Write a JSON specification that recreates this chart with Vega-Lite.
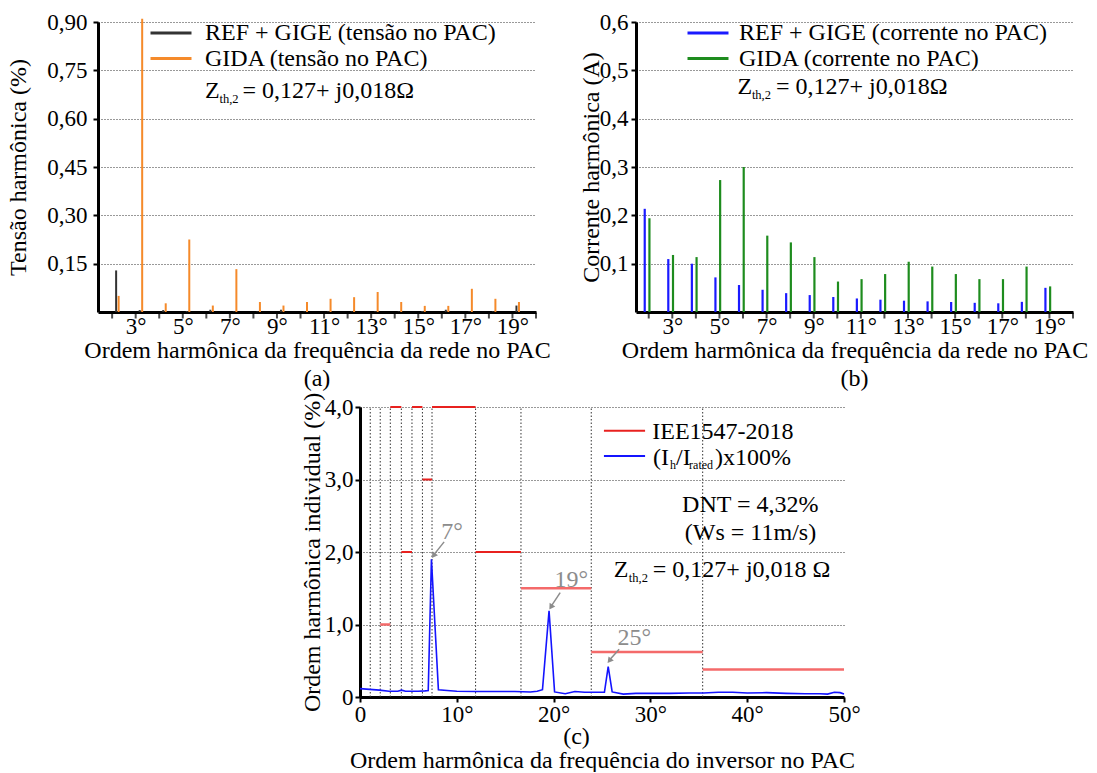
{
  "$schema": "https://vega.github.io/schema/vega-lite/v6.json",
  "background": "white",
  "autosize": {"type": "pad"},
  "padding": {"left": 6, "top": 11, "right": 5, "bottom": 0},
  "datasets": {
    "tensao": [
      {"h": 2, "serie": "REF + GIGE (tensão no PAC)", "v": 0.129},
      {"h": 3, "serie": "REF + GIGE (tensão no PAC)", "v": 0.006},
      {"h": 4, "serie": "REF + GIGE (tensão no PAC)", "v": 0.006},
      {"h": 5, "serie": "REF + GIGE (tensão no PAC)", "v": 0.003},
      {"h": 6, "serie": "REF + GIGE (tensão no PAC)", "v": 0.007},
      {"h": 7, "serie": "REF + GIGE (tensão no PAC)", "v": 0.002},
      {"h": 8, "serie": "REF + GIGE (tensão no PAC)", "v": 0.002},
      {"h": 9, "serie": "REF + GIGE (tensão no PAC)", "v": 0.007},
      {"h": 10, "serie": "REF + GIGE (tensão no PAC)", "v": 0.002},
      {"h": 11, "serie": "REF + GIGE (tensão no PAC)", "v": 0.002},
      {"h": 12, "serie": "REF + GIGE (tensão no PAC)", "v": 0.002},
      {"h": 13, "serie": "REF + GIGE (tensão no PAC)", "v": 0.002},
      {"h": 14, "serie": "REF + GIGE (tensão no PAC)", "v": 0.002},
      {"h": 15, "serie": "REF + GIGE (tensão no PAC)", "v": 0.003},
      {"h": 16, "serie": "REF + GIGE (tensão no PAC)", "v": 0.007},
      {"h": 17, "serie": "REF + GIGE (tensão no PAC)", "v": 0.002},
      {"h": 18, "serie": "REF + GIGE (tensão no PAC)", "v": 0.002},
      {"h": 19, "serie": "REF + GIGE (tensão no PAC)", "v": 0.02},
      {"h": 2, "serie": "GIDA (tensão no PAC)", "v": 0.05},
      {"h": 3, "serie": "GIDA (tensão no PAC)", "v": 0.91},
      {"h": 4, "serie": "GIDA (tensão no PAC)", "v": 0.027},
      {"h": 5, "serie": "GIDA (tensão no PAC)", "v": 0.225},
      {"h": 6, "serie": "GIDA (tensão no PAC)", "v": 0.02},
      {"h": 7, "serie": "GIDA (tensão no PAC)", "v": 0.133},
      {"h": 8, "serie": "GIDA (tensão no PAC)", "v": 0.031},
      {"h": 9, "serie": "GIDA (tensão no PAC)", "v": 0.02},
      {"h": 10, "serie": "GIDA (tensão no PAC)", "v": 0.031},
      {"h": 11, "serie": "GIDA (tensão no PAC)", "v": 0.041},
      {"h": 12, "serie": "GIDA (tensão no PAC)", "v": 0.046},
      {"h": 13, "serie": "GIDA (tensão no PAC)", "v": 0.062},
      {"h": 14, "serie": "GIDA (tensão no PAC)", "v": 0.031},
      {"h": 15, "serie": "GIDA (tensão no PAC)", "v": 0.019},
      {"h": 16, "serie": "GIDA (tensão no PAC)", "v": 0.019},
      {"h": 17, "serie": "GIDA (tensão no PAC)", "v": 0.072},
      {"h": 18, "serie": "GIDA (tensão no PAC)", "v": 0.041},
      {"h": 19, "serie": "GIDA (tensão no PAC)", "v": 0.031}
    ],
    "corrente": [
      {"h": 2, "serie": "REF + GIGE (corrente no PAC)", "v": 0.2135},
      {"h": 3, "serie": "REF + GIGE (corrente no PAC)", "v": 0.1095},
      {"h": 4, "serie": "REF + GIGE (corrente no PAC)", "v": 0.0999},
      {"h": 5, "serie": "REF + GIGE (corrente no PAC)", "v": 0.0716},
      {"h": 6, "serie": "REF + GIGE (corrente no PAC)", "v": 0.0558},
      {"h": 7, "serie": "REF + GIGE (corrente no PAC)", "v": 0.046},
      {"h": 8, "serie": "REF + GIGE (corrente no PAC)", "v": 0.039},
      {"h": 9, "serie": "REF + GIGE (corrente no PAC)", "v": 0.035},
      {"h": 10, "serie": "REF + GIGE (corrente no PAC)", "v": 0.031},
      {"h": 11, "serie": "REF + GIGE (corrente no PAC)", "v": 0.028},
      {"h": 12, "serie": "REF + GIGE (corrente no PAC)", "v": 0.0255},
      {"h": 13, "serie": "REF + GIGE (corrente no PAC)", "v": 0.0234},
      {"h": 14, "serie": "REF + GIGE (corrente no PAC)", "v": 0.022},
      {"h": 15, "serie": "REF + GIGE (corrente no PAC)", "v": 0.0207},
      {"h": 16, "serie": "REF + GIGE (corrente no PAC)", "v": 0.019},
      {"h": 17, "serie": "REF + GIGE (corrente no PAC)", "v": 0.018},
      {"h": 18, "serie": "REF + GIGE (corrente no PAC)", "v": 0.021},
      {"h": 19, "serie": "REF + GIGE (corrente no PAC)", "v": 0.05},
      {"h": 2, "serie": "GIDA (corrente no PAC)", "v": 0.194},
      {"h": 3, "serie": "GIDA (corrente no PAC)", "v": 0.118},
      {"h": 4, "serie": "GIDA (corrente no PAC)", "v": 0.1136},
      {"h": 5, "serie": "GIDA (corrente no PAC)", "v": 0.273},
      {"h": 6, "serie": "GIDA (corrente no PAC)", "v": 0.3},
      {"h": 7, "serie": "GIDA (corrente no PAC)", "v": 0.158},
      {"h": 8, "serie": "GIDA (corrente no PAC)", "v": 0.144},
      {"h": 9, "serie": "GIDA (corrente no PAC)", "v": 0.1136},
      {"h": 10, "serie": "GIDA (corrente no PAC)", "v": 0.063},
      {"h": 11, "serie": "GIDA (corrente no PAC)", "v": 0.068},
      {"h": 12, "serie": "GIDA (corrente no PAC)", "v": 0.0785},
      {"h": 13, "serie": "GIDA (corrente no PAC)", "v": 0.104},
      {"h": 14, "serie": "GIDA (corrente no PAC)", "v": 0.094},
      {"h": 15, "serie": "GIDA (corrente no PAC)", "v": 0.0785},
      {"h": 16, "serie": "GIDA (corrente no PAC)", "v": 0.068},
      {"h": 17, "serie": "GIDA (corrente no PAC)", "v": 0.068},
      {"h": 18, "serie": "GIDA (corrente no PAC)", "v": 0.094},
      {"h": 19, "serie": "GIDA (corrente no PAC)", "v": 0.053}
    ],
    "espectro": [
      {"h": 0, "v": 0.115}, {"h": 1, "v": 0.105}, {"h": 2, "v": 0.095}, {"h": 3, "v": 0.08},
      {"h": 3.9, "v": 0.08}, {"h": 4.3, "v": 0.095}, {"h": 4.7, "v": 0.08}, {"h": 6.0, "v": 0.08},
      {"h": 6.7, "v": 0.085}, {"h": 7.05, "v": 0.09}, {"h": 7.38, "v": 1.9}, {"h": 8.1, "v": 0.1},
      {"h": 9, "v": 0.09}, {"h": 10, "v": 0.08}, {"h": 12, "v": 0.075}, {"h": 14, "v": 0.075},
      {"h": 16, "v": 0.075}, {"h": 17.6, "v": 0.07}, {"h": 18.3, "v": 0.08}, {"h": 18.85, "v": 0.1},
      {"h": 19.53, "v": 1.19}, {"h": 20.1, "v": 0.07}, {"h": 21.2, "v": 0.045}, {"h": 22.2, "v": 0.075},
      {"h": 23.2, "v": 0.065}, {"h": 24.0, "v": 0.065}, {"h": 25.25, "v": 0.065}, {"h": 25.64, "v": 0.42},
      {"h": 26.05, "v": 0.07}, {"h": 27.2, "v": 0.04}, {"h": 28.5, "v": 0.05}, {"h": 30, "v": 0.05},
      {"h": 32, "v": 0.05}, {"h": 34, "v": 0.055}, {"h": 35.5, "v": 0.055}, {"h": 37, "v": 0.065},
      {"h": 38.5, "v": 0.065}, {"h": 40, "v": 0.055}, {"h": 42, "v": 0.06}, {"h": 44, "v": 0.05},
      {"h": 46, "v": 0.045}, {"h": 47.5, "v": 0.045}, {"h": 48.3, "v": 0.04}, {"h": 49, "v": 0.065},
      {"h": 49.6, "v": 0.06}, {"h": 50, "v": 0.04}
    ],
    "limites": [
      {"h1": 2.09, "h2": 3.13, "lim": 1.0},
      {"h1": 3.13, "h2": 4.27, "lim": 4.0},
      {"h1": 4.27, "h2": 5.37, "lim": 2.0},
      {"h1": 5.37, "h2": 6.45, "lim": 4.0},
      {"h1": 6.45, "h2": 7.44, "lim": 3.0},
      {"h1": 7.44, "h2": 11.94, "lim": 4.0},
      {"h1": 11.94, "h2": 16.63, "lim": 2.0},
      {"h1": 16.63, "h2": 23.89, "lim": 1.5},
      {"h1": 23.89, "h2": 35.4, "lim": 0.62},
      {"h1": 35.4, "h2": 50, "lim": 0.38}
    ],
    "fronteiras": [
      {"h": 1.06}, {"h": 2.09}, {"h": 3.13}, {"h": 4.27}, {"h": 5.37}, {"h": 6.45},
      {"h": 7.44}, {"h": 11.94}, {"h": 16.63}, {"h": 23.89}, {"h": 35.4}
    ]
  },
  "spacing": 1,
  "resolve": {"scale": {"color": "independent"}, "legend": {"color": "independent"}},
  "vconcat": [
    {
      "hconcat": [
        {
          "width": 438,
          "height": 290,
          "title": {"text": "(a)", "orient": "bottom", "offset": 5},
          "layer": [
            {
              "data": {"name": "tensao"},
              "transform": [{"filter": "datum.serie == 'REF + GIGE (tensão no PAC)'"}],
              "mark": {"type": "rule", "strokeWidth": 2, "xOffset": 4},
              "encoding": {
                "x": {"field": "h", "type": "quantitative",
                  "scale": {"domain": [1.4, 20], "nice": false, "zero": false},
                  "axis": {"values": [3,5,7,9,11,13,15,17,19],
                    "labelExpr": "datum.value + '°'",
                    "labelOverlap": false, "labelFlush": false, "tickOpacity": 0,
                    "title": "Ordem harmônica da frequência da rede no PAC",
                    "grid": false, "tickSize": 6, "labelPadding": -3, "titlePadding": 0}},
                "y": {"field": "v", "type": "quantitative",
                  "scale": {"domain": [0, 0.9], "nice": false},
                  "axis": {"values": [0.15, 0.3, 0.45, 0.6, 0.75, 0.9],
                    "labelExpr": "replace(format(datum.value, '.2f'), '.', ',')",
                    "labelOverlap": false,
                    "title": "Tensão harmônica (%)", "grid": true, "tickSize": 5,
                    "labelPadding": 6, "titlePadding": 16}},
                "y2": {"datum": 0},
                "color": {"field": "serie", "type": "nominal",
                  "scale": {"domain": ["REF + GIGE (tensão no PAC)", "GIDA (tensão no PAC)"], "range": ["#333333", "#f58a2a"]},
                  "legend": {"orient": "none", "legendX": 61, "legendY": -1, "title": null,
                    "symbolType": "M-2,0H2", "symbolSize": 420, "symbolStrokeWidth": 3,
                    "labelOffset": 22, "rowPadding": 1.5, "padding": 0}}
              }
            },
            {
              "data": {"name": "tensao"},
              "transform": [{"filter": "datum.serie == 'GIDA (tensão no PAC)'"}],
              "mark": {"type": "rule", "strokeWidth": 2, "xOffset": 6.5},
              "encoding": {
                "x": {"field": "h", "type": "quantitative"},
                "y": {"field": "v", "type": "quantitative"},
                "y2": {"datum": 0},
                "color": {"field": "serie", "type": "nominal"}
              }
            },
            {
              "data": {"name": "tensao"},
              "transform": [{"filter": "datum.serie == 'GIDA (tensão no PAC)'"}],
              "mark": {"type": "tick", "orient": "vertical", "size": 6, "thickness": 2, "color": "black", "yOffset": 3.5},
              "encoding": {"x": {"field": "h", "type": "quantitative"}, "y": {"datum": 0}}
            },
            {
              "data": {"values": [{}]},
              "mark": {"type": "tick", "orient": "vertical", "size": 6, "thickness": 2, "color": "black", "yOffset": 3.5},
              "encoding": {"x": {"datum": 20}, "y": {"datum": 0}}
            },
            {
              "data": {"values": [{}]},
              "mark": {"type": "text", "align": "left", "baseline": "middle", "fontSize": 24},
              "encoding": {"x": {"datum": 5.944}, "y": {"datum": 0.686}, "text": {"value": "Z"}}
            },
            {
              "data": {"values": [{}]},
              "mark": {"type": "text", "align": "left", "baseline": "middle", "fontSize": 12.5, "dx": 14.5, "dy": 8},
              "encoding": {"x": {"datum": 5.944}, "y": {"datum": 0.686}, "text": {"value": "th,2"}}
            },
            {
              "data": {"values": [{}]},
              "mark": {"type": "text", "align": "left", "baseline": "middle", "fontSize": 24, "dx": 37.5},
              "encoding": {"x": {"datum": 5.944}, "y": {"datum": 0.686}, "text": {"value": "= 0,127+ j0,018Ω"}}
            }
          ]
        },
        {
          "width": 437,
          "height": 290,
          "title": {"text": "(b)", "orient": "bottom", "offset": 5},
          "layer": [
            {
              "data": {"name": "corrente"},
              "transform": [{"filter": "datum.serie == 'REF + GIGE (corrente no PAC)'"}],
              "mark": {"type": "rule", "strokeWidth": 2.2, "xOffset": -4},
              "encoding": {
                "x": {"field": "h", "type": "quantitative",
                  "scale": {"domain": [1.46, 20], "nice": false, "zero": false},
                  "axis": {"values": [3,5,7,9,11,13,15,17,19],
                    "labelExpr": "datum.value + '°'",
                    "labelOverlap": false, "labelFlush": false, "tickOpacity": 0,
                    "title": "Ordem harmônica da frequência da rede no PAC",
                    "grid": false, "tickSize": 6, "labelPadding": -3, "titlePadding": 0}},
                "y": {"field": "v", "type": "quantitative",
                  "scale": {"domain": [0, 0.6], "nice": false},
                  "axis": {"values": [0.1, 0.2, 0.3, 0.4, 0.5, 0.6],
                    "labelExpr": "replace(format(datum.value, '.1f'), '.', ',')",
                    "labelOverlap": false,
                    "title": "Corrente harmônica (A)", "grid": true, "tickSize": 5,
                    "labelPadding": 3, "titlePadding": -4}},
                "y2": {"datum": 0},
                "color": {"field": "serie", "type": "nominal",
                  "scale": {"domain": ["REF + GIGE (corrente no PAC)", "GIDA (corrente no PAC)"], "range": ["#1a1aff", "#1e8c1e"]},
                  "legend": {"orient": "none", "legendX": 60, "legendY": -1, "title": null,
                    "symbolType": "M-2,0H2", "symbolSize": 420, "symbolStrokeWidth": 3,
                    "labelOffset": 19, "rowPadding": 1.5, "padding": 0}}
              }
            },
            {
              "data": {"name": "corrente"},
              "transform": [{"filter": "datum.serie == 'GIDA (corrente no PAC)'"}],
              "mark": {"type": "rule", "strokeWidth": 2.2, "xOffset": 0.7},
              "encoding": {
                "x": {"field": "h", "type": "quantitative"},
                "y": {"field": "v", "type": "quantitative"},
                "y2": {"datum": 0},
                "color": {"field": "serie", "type": "nominal"}
              }
            },
            {
              "data": {"name": "corrente"},
              "transform": [{"filter": "datum.serie == 'GIDA (corrente no PAC)'"}],
              "mark": {"type": "tick", "orient": "vertical", "size": 6, "thickness": 2, "color": "black", "yOffset": 3.5},
              "encoding": {"x": {"field": "h", "type": "quantitative"}, "y": {"datum": 0}}
            },
            {
              "data": {"values": [{}]},
              "mark": {"type": "tick", "orient": "vertical", "size": 6, "thickness": 2, "color": "black", "yOffset": 3.5},
              "encoding": {"x": {"datum": 20}, "y": {"datum": 0}}
            },
            {
              "data": {"values": [{}]},
              "mark": {"type": "text", "align": "left", "baseline": "middle", "fontSize": 24},
              "encoding": {"x": {"datum": 5.762}, "y": {"datum": 0.4656}, "text": {"value": "Z"}}
            },
            {
              "data": {"values": [{}]},
              "mark": {"type": "text", "align": "left", "baseline": "middle", "fontSize": 12.5, "dx": 14.5, "dy": 8},
              "encoding": {"x": {"datum": 5.762}, "y": {"datum": 0.4656}, "text": {"value": "th,2"}}
            },
            {
              "data": {"values": [{}]},
              "mark": {"type": "text", "align": "left", "baseline": "middle", "fontSize": 24, "dx": 38.5},
              "encoding": {"x": {"datum": 5.762}, "y": {"datum": 0.4656}, "text": {"value": "= 0,127+ j0,018Ω"}}
            }
          ]
        }
      ],
      "spacing": 100,
      "bounds": "flush",
      "resolve": {"scale": {"color": "independent"}, "legend": {"color": "independent"}}
    },
    {
      "hconcat": [
        {
          "width": 262,
          "height": 20,
          "data": {"values": [{}]},
          "mark": {"type": "point", "opacity": 0}
        },
        {
          "width": 484,
          "height": 290,
          "layer": [
            {
              "data": {"name": "fronteiras"},
              "mark": {"type": "rule", "color": "#333333", "strokeDash": [1.5, 2], "strokeWidth": 1},
              "encoding": {
                "x": {"field": "h", "type": "quantitative",
                  "scale": {"domain": [0, 50], "nice": false, "zero": false},
                  "axis": {"values": [0, 10, 20, 30, 40, 50],
                    "labelExpr": "datum.value == 0 ? '0' : datum.value + '°'",
                    "labelOverlap": false, "labelFlush": false,
                    "title": "Ordem harmônica da frequência do inversor no PAC",
                    "grid": false, "tickSize": 5, "labelPadding": 1, "titlePadding": 22}},
                "y": {"datum": 0},
                "y2": {"datum": 4}
              }
            },
            {
              "data": {"name": "limites"},
              "mark": {"type": "rule"},
              "encoding": {
                "x": {"field": "h1", "type": "quantitative"},
                "x2": {"field": "h2"},
                "y": {"field": "lim", "type": "quantitative"},
                "color": {"condition": {"test": "datum.lim < 1.6", "value": "#f46a6a"}, "value": "#e8211f"},
                "strokeWidth": {"condition": {"test": "datum.lim < 1.6", "value": 2.5}, "value": 2}
              }
            },
            {
              "data": {"name": "espectro"},
              "mark": {"type": "line", "color": "#1414ff", "strokeWidth": 1.6},
              "encoding": {
                "x": {"field": "h", "type": "quantitative"},
                "y": {"field": "v", "type": "quantitative",
                  "scale": {"domain": [0, 4], "nice": false},
                  "axis": {"values": [0, 1, 2, 3, 4],
                    "labelExpr": "datum.value == 0 ? '0' : replace(format(datum.value, '.1f'), '.', ',')",
                    "labelOverlap": false,
                    "title": "Ordem harmônica individual (%)", "grid": true, "tickSize": 5,
                    "labelPadding": 2, "titlePadding": 0}}
              }
            },
            {
              "data": {"values": [{}]},
              "mark": {"type": "rule", "color": "#e8211f", "strokeWidth": 2},
              "encoding": {"x": {"datum": 25.2}, "x2": {"datum": 29.45}, "y": {"datum": 3.673}}
            },
            {
              "data": {"values": [{}]},
              "mark": {"type": "text", "align": "left", "baseline": "middle", "fontSize": 24},
              "encoding": {"x": {"datum": 30.19}, "y": {"datum": 3.655}, "text": {"value": "IEE1547-2018"}}
            },
            {
              "data": {"values": [{}]},
              "mark": {"type": "rule", "color": "#1414ff", "strokeWidth": 2},
              "encoding": {"x": {"datum": 25.2}, "x2": {"datum": 29.45}, "y": {"datum": 3.324}}
            },
            {
              "data": {"values": [{}]},
              "mark": {"type": "text", "align": "left", "baseline": "middle", "fontSize": 24},
              "encoding": {"x": {"datum": 30.28}, "y": {"datum": 3.297}, "text": {"value": "(I"}}
            },
            {
              "data": {"values": [{}]},
              "mark": {"type": "text", "align": "left", "baseline": "middle", "fontSize": 12, "dx": 17, "dy": 7},
              "encoding": {"x": {"datum": 30.28}, "y": {"datum": 3.297}, "text": {"value": "h"}}
            },
            {
              "data": {"values": [{}]},
              "mark": {"type": "text", "align": "left", "baseline": "middle", "fontSize": 24, "dx": 23},
              "encoding": {"x": {"datum": 30.28}, "y": {"datum": 3.297}, "text": {"value": "/I"}}
            },
            {
              "data": {"values": [{}]},
              "mark": {"type": "text", "align": "left", "baseline": "middle", "fontSize": 12, "dx": 36, "dy": 7},
              "encoding": {"x": {"datum": 30.28}, "y": {"datum": 3.297}, "text": {"value": "rated"}}
            },
            {
              "data": {"values": [{}]},
              "mark": {"type": "text", "align": "left", "baseline": "middle", "fontSize": 24, "dx": 62},
              "encoding": {"x": {"datum": 30.28}, "y": {"datum": 3.297}, "text": {"value": ")x100%"}}
            },
            {
              "data": {"values": [{}]},
              "mark": {"type": "text", "align": "center", "baseline": "middle", "fontSize": 24},
              "encoding": {"x": {"datum": 40.32}, "y": {"datum": 2.648}, "text": {"value": "DNT = 4,32%"}}
            },
            {
              "data": {"values": [{}]},
              "mark": {"type": "text", "align": "center", "baseline": "middle", "fontSize": 24},
              "encoding": {"x": {"datum": 40.34}, "y": {"datum": 2.266}, "text": {"value": "(Ws = 11m/s)"}}
            },
            {
              "data": {"values": [{}]},
              "mark": {"type": "text", "align": "left", "baseline": "middle", "fontSize": 24},
              "encoding": {"x": {"datum": 26.22}, "y": {"datum": 1.752}, "text": {"value": "Z"}}
            },
            {
              "data": {"values": [{}]},
              "mark": {"type": "text", "align": "left", "baseline": "middle", "fontSize": 12.5, "dx": 15, "dy": 8},
              "encoding": {"x": {"datum": 26.22}, "y": {"datum": 1.752}, "text": {"value": "th,2"}}
            },
            {
              "data": {"values": [{}]},
              "mark": {"type": "text", "align": "left", "baseline": "middle", "fontSize": 24, "dx": 39},
              "encoding": {"x": {"datum": 26.22}, "y": {"datum": 1.752}, "text": {"value": "= 0,127+ j0,018 Ω"}}
            },
            {
              "data": {"values": [{}]},
              "mark": {"type": "text", "align": "center", "baseline": "middle", "fontSize": 24, "color": "#8c8c8c"},
              "encoding": {"x": {"datum": 9.52}, "y": {"datum": 2.28}, "text": {"value": "7°"}}
            },
            {
              "data": {"values": [{}]},
              "mark": {"type": "text", "align": "center", "baseline": "middle", "fontSize": 24, "color": "#8c8c8c"},
              "encoding": {"x": {"datum": 21.82}, "y": {"datum": 1.614}, "text": {"value": "19°"}}
            },
            {
              "data": {"values": [{}]},
              "mark": {"type": "text", "align": "center", "baseline": "middle", "fontSize": 24, "color": "#8c8c8c"},
              "encoding": {"x": {"datum": 28.34}, "y": {"datum": 0.82}, "text": {"value": "25°"}}
            },
            {
              "data": {"values": [{}]},
              "mark": {"type": "rule", "color": "#8c8c8c", "strokeWidth": 1.5},
              "encoding": {"x": {"datum": 8.69}, "y": {"datum": 2.14}, "x2": {"datum": 7.62}, "y2": {"datum": 1.96}}
            },
            {
              "data": {"values": [{}]},
              "mark": {"type": "rule", "color": "#8c8c8c", "strokeWidth": 1.5},
              "encoding": {"x": {"datum": 20.68}, "y": {"datum": 1.439}, "x2": {"datum": 19.74}, "y2": {"datum": 1.25}}
            },
            {
              "data": {"values": [{}]},
              "mark": {"type": "rule", "color": "#8c8c8c", "strokeWidth": 1.5},
              "encoding": {"x": {"datum": 26.77}, "y": {"datum": 0.658}, "x2": {"datum": 25.78}, "y2": {"datum": 0.51}}
            },
            {
              "data": {"values": [{}]},
              "mark": {"type": "point", "shape": "triangle-down", "filled": true, "color": "#8c8c8c", "size": 45, "angle": 35, "opacity": 1},
              "encoding": {"x": {"datum": 7.6}, "y": {"datum": 1.95}}
            },
            {
              "data": {"values": [{}]},
              "mark": {"type": "point", "shape": "triangle-down", "filled": true, "color": "#8c8c8c", "size": 45, "angle": 32, "opacity": 1},
              "encoding": {"x": {"datum": 19.72}, "y": {"datum": 1.24}}
            },
            {
              "data": {"values": [{}]},
              "mark": {"type": "point", "shape": "triangle-down", "filled": true, "color": "#8c8c8c", "size": 45, "angle": 38, "opacity": 1},
              "encoding": {"x": {"datum": 25.76}, "y": {"datum": 0.5}}
            },
            {
              "data": {"values": [{}]},
              "mark": {"type": "text", "align": "center", "baseline": "middle", "fontSize": 24},
              "encoding": {"x": {"datum": 22.37}, "y": {"datum": -0.55}, "text": {"value": "(c)"}}
            }
          ]
        }
      ],
      "spacing": 0,
      "bounds": "flush"
    }
  ],
  "config": {
    "font": "Liberation Serif",
    "view": {"stroke": null},
    "axis": {
      "labelFont": "Liberation Serif", "titleFont": "Liberation Serif",
      "labelFontSize": 23, "titleFontSize": 24, "titleFontWeight": "normal",
      "labelColor": "black", "titleColor": "black",
      "domainColor": "black", "domainWidth": 3,
      "tickColor": "black", "tickWidth": 2,
      "gridColor": "#333333", "gridDash": [1, 2], "gridWidth": 1,
      "labelFlush": false, "labelOverlap": false
    },
    "title": {"font": "Liberation Serif", "fontSize": 24, "fontWeight": "normal", "color": "black"},
    "legend": {"labelFont": "Liberation Serif", "labelFontSize": 24, "labelColor": "black", "labelLimit": 0},
    "text": {"font": "Liberation Serif"}
  }
}
